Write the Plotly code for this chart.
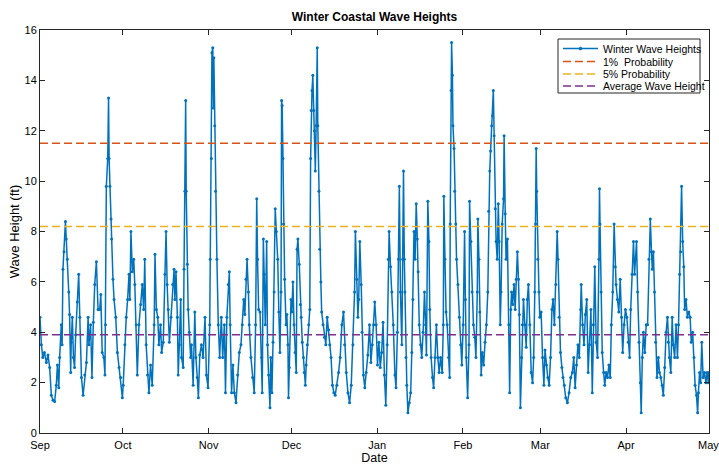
import pandas as pd
import plotly.graph_objects as go

# ---- data (day offset from Sep 1, wave height in ft) ----
obs_day = [
    0.0, 0.5, 1.0, 1.6, 2.3, 2.9, 3.5, 4.1, 4.7, 5.3, 5.9, 6.3, 6.8, 7.1, 7.7, 8.0, 8.3, 8.7, 9.2, 9.5,
    9.9, 10.4, 10.7, 11.1, 11.3, 11.7, 12.1, 12.5, 12.9, 13.5, 14.0, 14.4, 15.0, 15.6, 16.2, 16.8, 17.4,
    17.7, 18.3, 18.8, 19.3, 19.8, 20.4, 21.0,
    21.6, 22.0, 22.5, 23.1, 23.5, 23.7, 24.0, 24.5, 24.8, 25.0, 25.3, 25.7, 25.9, 26.4, 26.8, 27.4, 28.0,
    28.6, 29.2, 29.8, 30.1, 30.7, 31.2, 31.7, 32.2, 32.5, 32.9, 33.4, 33.9, 34.3, 34.8, 35.2, 35.8, 36.4,
    37.0, 37.5, 37.9, 38.4, 38.9, 39.4, 40.0, 40.6, 41.3, 41.6, 42.1, 42.6, 43.0, 43.6,
    44.0, 44.6, 45.2, 45.6, 46.0, 46.4, 46.8, 47.4, 48.0, 48.5, 48.8, 49.2, 49.7, 50.0, 50.4, 50.9, 51.2,
    51.8, 52.1, 52.4, 52.7, 52.9, 53.3, 53.6, 54.0, 54.5, 54.8, 55.4, 56.0, 56.4, 56.9, 57.3, 57.8, 58.4,
    59.0, 59.7, 60.2, 60.8, 61.4, 61.6, 62.0, 62.2, 62.5, 62.7, 62.9, 63.2, 63.5, 64.0, 64.5, 65.0, 65.6,
    66.1, 66.7, 67.1, 67.6, 68.1, 68.5, 68.8, 69.3, 69.8, 70.3, 70.9, 71.5, 72.1, 72.7, 73.2, 73.7, 74.1,
    74.5, 74.9, 75.4, 75.7, 76.3, 76.9, 77.5, 78.0, 78.4, 78.7, 79.1, 79.6, 80.2, 80.4, 80.8, 81.1, 81.5,
    82.0, 82.3, 82.7, 83.2, 83.5, 83.9, 84.3, 84.7, 85.1, 85.5, 86.0, 86.4, 86.8, 87.2, 87.4,
    87.6, 87.9, 88.1, 88.5, 89.0, 89.3, 89.7, 89.9, 90.2, 90.8, 91.1, 91.5, 91.9, 92.3, 92.7, 93.0, 93.3,
    93.8, 94.2, 94.5, 94.9, 95.3, 95.6, 96.0, 96.3, 96.7, 97.2, 97.6, 97.9, 98.1, 98.4, 98.7, 99.0, 99.3,
    99.6, 99.9, 100.3, 100.5, 100.9, 101.2, 101.6, 101.9, 102.4, 102.9, 103.4, 103.9, 104.4, 104.8, 105.3,
    105.8, 106.3, 106.8, 107.4, 108.0, 108.6, 109.2, 109.8,
    110.2, 110.8, 111.4, 112.0, 112.6, 113.2, 113.8, 114.1, 114.6, 115.0, 115.3, 115.7, 116.2, 116.5,
    117.0, 117.5, 118.0, 118.6, 119.2, 119.7, 120.2, 120.7, 121.1, 121.6, 122.1, 122.6, 123.1, 123.6,
    124.1, 124.6, 125.1, 125.6, 126.0, 126.3, 126.8, 127.3, 127.8, 128.4, 128.8, 129.3, 129.7, 130.0,
    130.4, 130.9, 131.2, 131.5, 131.8,
    132.0, 132.4, 132.7, 133.1, 133.6, 134.1, 134.5, 134.9, 135.3, 135.7, 136.1, 136.5, 136.8, 137.2,
    137.7, 138.1, 138.6, 139.1, 139.5, 139.8, 140.3, 140.7, 141.0, 141.5, 142.0, 142.4, 142.9, 143.4,
    143.9, 144.4, 144.9, 145.5, 145.9, 146.1, 146.5, 146.9, 147.3, 147.8, 148.2, 148.4, 148.7, 148.9,
    149.2, 149.4, 149.8, 150.0, 150.4, 150.7, 151.2, 151.7, 152.2, 152.6, 153.1, 153.6,
    153.9, 154.2, 154.7, 155.2, 155.4, 155.9, 156.3, 156.8, 157.3, 157.7, 158.2, 158.4, 158.8, 159.1,
    159.6, 160.0, 160.5, 161.0, 161.5, 162.0, 162.3, 162.7, 163.0, 163.4, 163.7, 164.0, 164.3, 164.7,
    165.0, 165.4, 165.8, 166.1, 166.5, 166.8, 167.2, 167.7, 167.9, 168.3, 168.6, 169.1, 169.6, 169.9,
    170.3, 170.6, 171.0, 171.5, 171.9, 172.3, 172.7, 173.1, 173.4, 173.8, 174.2, 174.5, 174.9, 175.4,
    175.9,
    176.3, 176.7, 177.2, 177.7, 178.2, 178.6, 179.0, 179.3, 179.5, 179.7, 180.1, 180.5, 180.8, 181.3,
    181.8, 182.3, 182.7, 183.2, 183.7, 184.2, 184.7, 185.2, 185.6, 186.1, 186.6, 187.1, 187.4, 187.8,
    188.3, 188.8, 189.2, 189.7, 190.2, 190.8, 191.4, 192.0, 192.6, 193.1, 193.6, 194.1, 194.6, 195.1,
    195.6, 195.8, 196.3, 196.8, 197.3, 197.8,
    198.3, 198.8, 199.3, 199.8, 200.2, 200.7, 201.2, 201.7, 202.2, 202.4, 202.6, 203.0, 203.4, 203.9,
    204.3, 204.8, 205.3, 205.8, 206.3, 206.7, 207.2, 207.7, 208.1, 208.4, 208.9, 209.4, 209.9, 210.4,
    210.8, 211.3, 211.8, 212.3, 212.8, 213.3, 213.7, 214.2, 214.7, 215.1, 215.4, 215.8, 216.2, 216.7,
    217.2, 217.5, 217.9, 218.3, 218.8, 219.3, 219.8,
    220.3, 220.8, 221.2, 221.5, 221.9, 222.3, 222.7, 223.2, 223.7, 224.1, 224.6, 225.1, 225.5, 226.0,
    226.5, 227.0, 227.3, 227.7, 228.2, 228.7, 229.1, 229.6, 230.1, 230.6, 231.0, 231.4, 231.8, 232.1,
    232.5, 232.9, 233.2, 233.7, 234.2, 234.7, 235.2, 235.6, 236.1, 236.6, 237.0, 237.5, 237.9, 238.2,
    238.6, 239.0, 239.4, 239.9, 240.4, 240.9, 241.3, 241.8, 242.0,
]

wave_ft = [
    4.6, 3.5, 3.0, 3.2, 2.8, 3.1, 2.6, 1.5, 1.3, 1.25, 1.9, 2.7, 1.8, 3.0, 4.3, 3.5, 6.5, 7.2, 8.4, 7.7,
    6.9, 5.6, 4.7, 2.4, 3.6, 4.6, 3.0, 2.6, 3.9, 5.2, 6.3, 4.6, 2.2, 1.5, 2.3, 2.8, 4.6,
    3.5, 4.3, 2.2, 4.4, 5.9, 6.8, 4.9,
    4.9, 5.5, 3.2, 3.0, 2.3, 4.3, 9.8, 10.9, 13.3, 10.9, 9.8, 8.5, 7.7, 6.1, 5.3, 4.6, 3.2,
    2.6, 2.2, 1.4, 1.9, 3.5, 4.6, 5.3, 6.3, 5.3, 8.0, 6.4, 6.9, 5.9, 4.3, 2.3, 4.3, 5.1,
    5.9, 4.9, 6.9, 3.5, 2.3, 1.6, 2.7, 1.9, 4.3, 7.1, 4.9, 4.6, 3.5, 4.3,
    3.2, 3.6, 6.3, 8.0, 5.9, 4.9, 3.6, 4.6, 5.9, 6.5, 5.3, 6.4, 4.6, 2.3, 3.5, 5.3, 3.0,
    2.6, 6.5, 9.6, 13.2, 9.6, 6.7, 4.9, 4.0, 3.0, 3.5, 1.9, 4.8, 3.0, 2.2, 1.4, 3.1, 3.5,
    3.0, 4.6, 2.3, 1.8, 4.3, 6.9, 10.9, 15.1, 15.3, 12.9, 14.9, 12.2, 9.6, 6.9, 4.3, 3.0, 4.6,
    3.0, 4.3, 1.6, 4.6, 5.9, 6.4, 4.3, 1.6, 2.7, 1.6, 1.2, 2.3, 3.2, 3.5, 4.3, 5.3, 4.7,
    6.1, 6.9, 5.6, 4.3, 3.0, 2.2, 1.6, 4.3, 9.3, 6.9, 4.9, 4.8, 3.0, 1.6, 7.7, 6.3, 4.3,
    7.6, 3.5, 2.3, 1.0, 3.0, 1.6, 3.6, 5.6, 8.9, 8.0, 6.9, 4.8, 3.2, 5.6, 13.2,
    13.0, 10.9, 8.3, 6.1, 4.3, 4.7, 3.5, 1.4, 2.6, 5.3, 4.8, 6.0, 4.3, 3.2, 2.4, 7.3, 7.7,
    6.7, 5.1, 4.6, 3.6, 3.0, 2.4, 1.9, 2.7, 3.5, 4.3, 4.9, 10.9, 12.8, 13.6, 14.2, 12.8, 12.0,
    10.4, 12.2, 15.3, 12.2, 9.6, 7.3, 6.0, 4.8, 4.3, 3.8, 3.5, 4.6, 4.1, 3.5, 3.0,
    1.9, 1.6, 1.5, 1.9, 2.4, 3.0, 4.3, 4.8,
    3.5, 2.4, 1.6, 1.2, 1.9, 3.5, 5.6, 8.0, 6.1, 4.6, 5.3, 7.6, 5.9, 4.0,
    2.3, 1.8, 2.4, 3.1, 4.3, 2.8, 3.5, 4.3, 5.2, 4.3, 2.7, 3.6, 2.6, 3.2,
    4.4, 2.3, 1.1, 3.5, 6.9, 8.0, 6.6, 5.6, 4.3, 2.3, 1.8, 4.0, 6.9, 9.8,
    5.6, 3.5, 6.9, 10.4, 6.9,
    5.6, 3.0, 1.9, 0.8, 1.2, 1.6, 3.2, 5.3, 8.0, 6.9, 9.1, 7.7, 6.4, 4.3,
    3.5, 3.0, 4.0, 5.6, 4.3, 3.1, 9.2, 7.6, 4.9, 3.0, 2.2, 1.8, 3.0, 4.3,
    3.0, 2.4, 3.0, 2.4, 4.3, 9.4, 6.9, 4.8, 4.3, 3.0, 2.2, 8.3, 13.6, 15.5,
    14.2, 12.2, 11.3, 9.6, 8.3, 6.9, 5.9, 4.6, 3.5, 2.7, 4.3, 8.0,
    5.3, 3.0, 1.4, 3.5, 9.2, 7.6, 5.6, 4.3, 3.8, 3.0, 5.6, 8.5, 6.9, 4.8,
    2.3, 3.2, 2.7, 3.6, 4.3, 5.6, 8.8, 10.4, 11.2, 12.2, 12.6, 13.6, 11.8, 8.9,
    7.6, 6.9, 9.1, 7.6, 4.3, 5.6, 8.3, 9.3, 11.8, 8.7, 6.9, 7.7, 4.3, 1.6,
    4.9, 5.6, 5.1, 5.9, 4.9, 6.1, 7.2, 6.1, 4.7, 1.0, 3.0, 4.3, 5.3, 4.3,
    3.4,
    5.3, 5.9, 4.3, 2.4, 2.0, 3.0, 5.6, 8.3, 11.3, 9.6, 6.9, 5.6, 4.6, 4.8,
    3.0, 1.9, 3.3, 2.7, 2.2, 1.9, 3.0, 4.9, 5.3, 4.3, 5.9, 8.0, 6.9, 4.6,
    3.2, 2.6, 2.2, 1.9, 1.4, 1.2, 1.6, 2.2, 2.4, 3.0, 1.8, 2.7, 3.5, 3.0,
    4.9, 5.9, 4.3, 3.5, 4.7, 5.3,
    2.4, 3.5, 4.9, 1.6, 4.3, 6.6, 3.6, 3.0, 6.9, 9.7, 8.3, 5.6, 3.2, 2.4,
    1.9, 2.4, 2.2, 2.7, 2.2, 4.3, 5.6, 8.3, 6.6, 5.9, 5.3, 4.8, 6.1, 4.6,
    3.2, 4.3, 4.9, 4.6, 3.6, 3.0, 4.9, 6.3, 7.6, 6.3, 6.9, 7.6, 5.6, 3.6,
    2.0, 0.8, 3.0, 4.0, 3.2, 4.3, 4.3,
    6.9, 8.5, 7.2, 6.5, 7.2, 5.6, 3.6, 2.2, 3.0, 2.4, 2.2, 1.9, 1.5, 2.6,
    4.0, 4.6, 3.6, 3.0, 2.4, 4.6, 3.5, 3.0, 4.3, 3.0, 4.3, 6.3, 7.2, 9.8,
    7.6, 6.6, 4.9, 5.3, 4.6, 4.8, 4.6, 3.6, 4.0, 3.0, 1.9, 1.5, 0.8, 1.6,
    2.4, 2.0, 3.6, 2.2, 2.4, 2.0, 2.4, 2.0, 2.4,
]

prob_1pct = 11.5
prob_5pct = 8.2
avg_height = 3.9

series_names = ["Winter Wave Heights", "1%  Probability", "5% Probability", "Average Wave Height"]
month_ticks = ["2014-09-01", "2014-10-01", "2014-11-01", "2014-12-01", "2015-01-01",
               "2015-02-01", "2015-03-01", "2015-04-01", "2015-05-01"]
month_labels = ["Sep", "Oct", "Nov", "Dec", "Jan", "Feb", "Mar", "Apr", "May"]
y_ticks = [0, 2, 4, 6, 8, 10, 12, 14, 16]

start = pd.Timestamp(month_ticks[0])
end = pd.Timestamp(month_ticks[-1])
dates = start + pd.to_timedelta(obs_day, unit="D")

BLUE = "#0072BD"
RED = "#D95319"
YELLOW = "#EDB120"
PURPLE = "#7E2F8E"
AX = "#262626"
FONT = "Liberation Sans, Arial, sans-serif"
DASH = "8px,4px"
colors = [BLUE, RED, YELLOW, PURPLE]

# figure / plot-area geometry (pixels)
W, H = 719, 465
L, R, T, B = 40, 10, 30, 32
PW, PH = W - L - R, H - T - B


def px_x(px):
    return (px - L) / PW


def px_y(py):
    return (H - B - py) / PH


fig = go.Figure()
fig.add_trace(go.Scatter(
    x=dates, y=wave_ft, mode="lines+markers", name=series_names[0],
    line=dict(color=BLUE, width=1.5), marker=dict(color=BLUE, size=3),
))
for val, col, nm in [(prob_1pct, RED, series_names[1]),
                     (prob_5pct, YELLOW, series_names[2]),
                     (avg_height, PURPLE, series_names[3])]:
    fig.add_trace(go.Scatter(
        x=[start, end], y=[val, val], mode="lines", name=nm,
        line=dict(color=col, width=1.5, dash=DASH),
    ))

# ---- hand-drawn compact legend (MATLAB style) ----
shapes = [dict(type="rect", xref="paper", yref="paper",
               x0=px_x(558), x1=px_x(700), y0=px_y(93), y1=px_y(39),
               line=dict(color=AX, width=1), fillcolor="white", layer="above")]
annotations = []
row_y = [48.5, 61.5, 74, 86]
for i, (nm, col) in enumerate(zip(series_names, colors)):
    yy = px_y(row_y[i])
    shapes.append(dict(type="line", xref="paper", yref="paper",
                       x0=px_x(563), x1=px_x(598), y0=yy, y1=yy,
                       line=dict(color=col, width=1.5, dash=None if i == 0 else DASH),
                       layer="above"))
    if i == 0:
        shapes.append(dict(type="circle", xref="paper", yref="paper",
                           xsizemode="pixel", ysizemode="pixel",
                           xanchor=px_x(580.5), yanchor=yy,
                           x0=-1.6, x1=1.6, y0=-1.6, y1=1.6,
                           line=dict(color=col, width=0.5), fillcolor=col, layer="above"))
    annotations.append(dict(xref="paper", yref="paper", x=px_x(601), y=yy,
                            xanchor="left", yanchor="middle", showarrow=False,
                            text=nm, font=dict(family=FONT, size=10.5, color="#000")))

# last month label (plotly drops the tick label sitting on the right edge)
annotations.append(dict(xref="x", yref="paper", x=end, y=0, xanchor="center", yanchor="top",
                        yshift=-4, showarrow=False, text=month_labels[-1],
                        font=dict(family=FONT, size=11, color="#000")))

axis_common = dict(
    showline=True, linecolor=AX, linewidth=1, mirror="ticks",
    ticks="inside", ticklen=5, tickcolor=AX, tickwidth=1,
    showgrid=False, zeroline=False,
    tickfont=dict(family=FONT, size=11, color="#000"),
)

fig.update_layout(
    width=W, height=H,
    margin=dict(l=L, r=R, t=T, b=B),
    paper_bgcolor="white", plot_bgcolor="white",
    font=dict(family=FONT, color="#000"),
    title=dict(text="<b>Winter Coastal Wave Heights</b>", x=0.5, xref="paper",
               y=1 - 17 / H, yref="container", yanchor="middle",
               font=dict(family=FONT, size=12, color="#000")),
    showlegend=False,
    shapes=shapes,
    annotations=annotations,
    xaxis=dict(range=[start, end + pd.Timedelta(minutes=30)],
               tickvals=month_ticks, ticktext=month_labels[:-1] + [""],
               ticklabelstandoff=2,
               title=dict(text="Date", font=dict(family=FONT, size=12.5), standoff=8),
               automargin=False, **axis_common),
    yaxis=dict(range=[0, 16], tickvals=y_ticks,
               title=dict(text="Wave Height (ft)", font=dict(family=FONT, size=13), standoff=1),
               automargin=False, **axis_common),
)

fig.write_html("out.html", config={"displayModeBar": False},
               post_script="document.body.style.margin='0';")
